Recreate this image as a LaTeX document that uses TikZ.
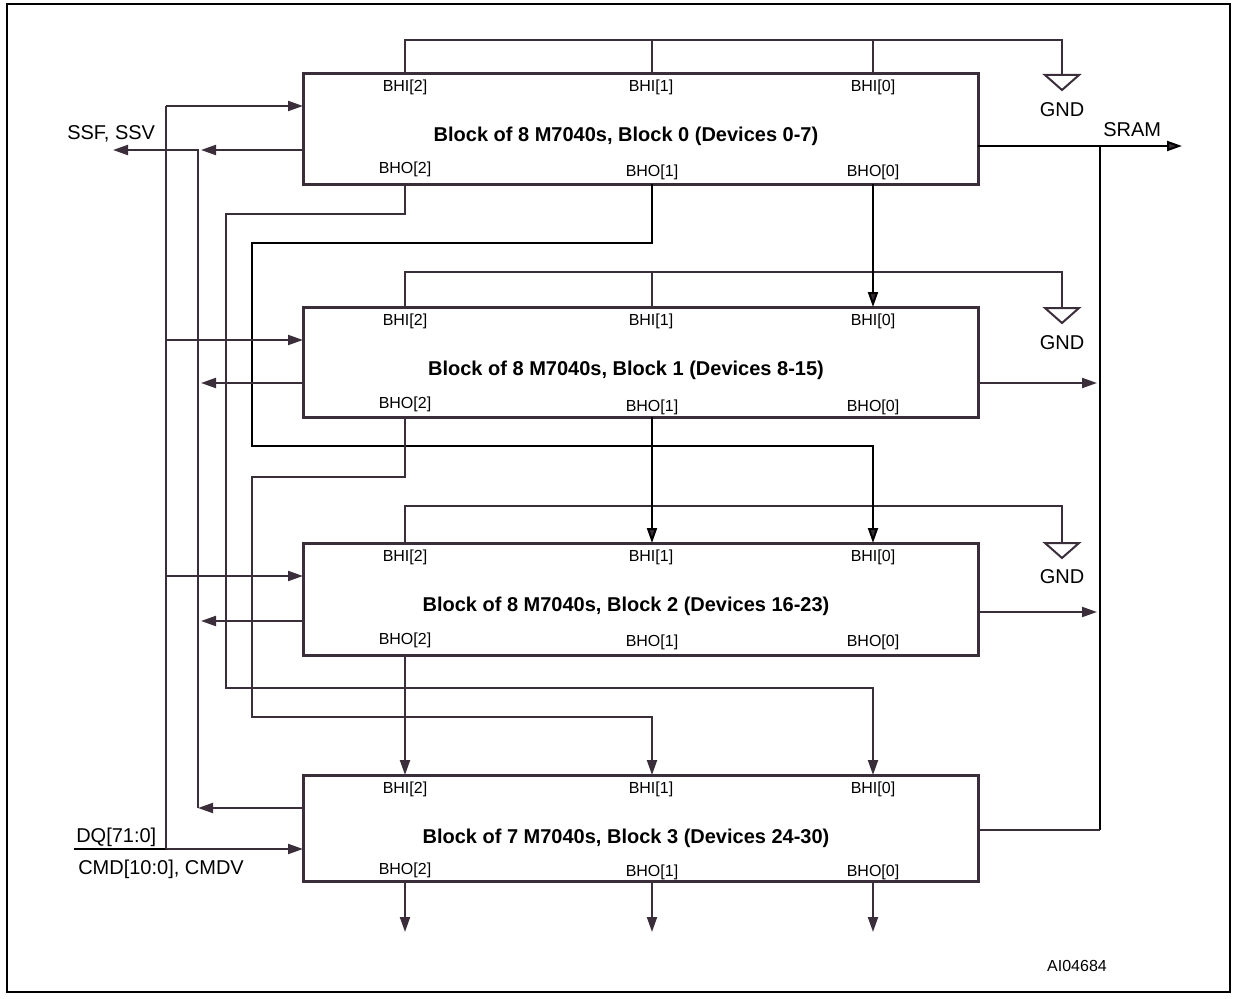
\documentclass[tikz,border=0pt]{standalone}
\usepackage{fontspec}
\setmainfont{Liberation Sans}
\usetikzlibrary{arrows.meta}
\definecolor{lc}{RGB}{58,46,58}
\begin{document}
\begin{tikzpicture}[x=0.75pt,y=-0.75pt,
  wire/.style={draw=lc,line width=1.5pt},
  bwire/.style={draw=black,line width=1.5pt},
  arr/.style={-{Triangle[length=11.25pt,width=7.5pt,fill=lc]}},
  blk/.style={draw=lc,line width=2.25pt,minimum width=506.25pt,inner sep=0pt,outer sep=0pt},
  ttl/.style={font=\fontsize{15}{18}\selectfont\bfseries,anchor=base,inner sep=0pt},
  pinlbl/.style={font=\fontsize{12}{14}\selectfont,anchor=base,inner sep=0pt},
  lbl/.style={font=\fontsize{15}{18}\selectfont,anchor=base west,inner sep=0pt},
  pics/gnd/.style={code={\draw[wire] (-17,0)--(17,0)--(0,15)--cycle;}}
]
\useasboundingbox (0,0) rectangle (1233,999);
\draw[black,line width=1.5pt] (7,4.5) rectangle (1229.5,992);

% blocks
\node[blk,minimum height=82.5pt] (b0) at (640.5,129) {};
\node[blk,minimum height=82.5pt] (b1) at (640.5,362) {};
\node[blk,minimum height=84pt]   (b2) at (640.5,599) {};
\node[blk,minimum height=79.5pt] (b3) at (640.5,828) {};

\node[ttl] (t0) at (626,142) {Block of 8 M7040s, Block 0 (Devices 0-7)};
\node[ttl] (t1) at (626,375) {Block of 8 M7040s, Block 1 (Devices 8-15)};
\node[ttl] (t2) at (626,611) {Block of 8 M7040s, Block 2 (Devices 16-23)};
\node[ttl] (t3) at (626,843) {Block of 7 M7040s, Block 3 (Devices 24-30)};

% pin coordinates and labels
\foreach \k/\top/\bot/\bia/\bib in {0/74/184/174/176,1/307/417/408/411,2/543/655/644/646,3/775/881/874/876}{
  \coordinate (i\k2) at (405,\top);
  \coordinate (i\k1) at (652,\top);
  \coordinate (i\k0) at (873,\top);
  \coordinate (o\k2) at (405,\bot);
  \coordinate (o\k1) at (652,\bot);
  \coordinate (o\k0) at (873,\bot);
  \node[pinlbl] (li\k2) at (405,\top+18) {BHI[2]};
  \node[pinlbl] (li\k1) at (651,\top+18) {BHI[1]};
  \node[pinlbl] (li\k0) at (873,\top+18) {BHI[0]};
  \node[pinlbl] (lo\k2) at (405,\bia) {BHO[2]};
  \node[pinlbl] (lo\k1) at (652,\bib) {BHO[1]};
  \node[pinlbl] (lo\k0) at (873,\bib) {BHO[0]};
}

% GND ties
\coordinate (g0a) at (405,40);  \coordinate (g0b) at (652,40);
\coordinate (g0c) at (873,40);  \coordinate (g0d) at (1062,40);
\coordinate (g0t) at (1062,75);
\draw[wire] (i02) -- (g0a) -- (g0d) -- (g0t);
\draw[wire] (g0b) -- (i01);
\draw[wire] (g0c) -- (i00);
\pic at (g0t) {gnd};
\node[lbl,anchor=base] (gnd0) at (1062,117) {GND};

\coordinate (g1a) at (405,272); \coordinate (g1b) at (652,272);
\coordinate (g1d) at (1062,272); \coordinate (g1t) at (1062,308);
\draw[wire] (i12) -- (g1a) -- (g1d) -- (g1t);
\draw[wire] (g1b) -- (i11);
\pic at (g1t) {gnd};
\node[lbl,anchor=base] (gnd1) at (1062,349) {GND};

\coordinate (g2a) at (405,506); \coordinate (g2d) at (1062,506);
\coordinate (g2t) at (1062,543);
\draw[wire] (i22) -- (g2a) -- (g2d) -- (g2t);
\pic at (g2t) {gnd};
\node[lbl,anchor=base] (gnd2) at (1062,583) {GND};

% cascade connections
\draw[bwire,arr] (o00) -- (i10);
\draw[bwire,arr] (o01) -- (652,243) -- (252,243) -- (252,446) -- (873,446) -- (i20);
\draw[wire,arr] (o02) -- (405,214) -- (226,214) -- (226,688) -- (873,688) -- (i30);
\draw[bwire,arr] (o11) -- (i21);
\draw[wire,arr] (o12) -- (405,477) -- (252,477) -- (252,717) -- (652,717) -- (i31);
\draw[wire,arr] (o22) -- (i32);
\coordinate (e2) at (405,932); \coordinate (e1) at (652,932); \coordinate (e0) at (873,932);
\draw[wire,arr] (o32) -- (e2);
\draw[wire,arr] (o31) -- (e1);
\draw[wire,arr] (o30) -- (e0);

% DQ / CMD bus (left)
\coordinate (dqs) at (74,849);  \coordinate (dqj) at (166,849);
\coordinate (dqt) at (166,106);
\coordinate (in0) at (303,106); \coordinate (in1) at (303,340);
\coordinate (in2) at (303,576); \coordinate (in3) at (303,849);
\draw[bwire] (dqs) -- (dqj);
\draw[wire,arr] (dqj) -- (in3);
\draw[wire] (dqj) -- (dqt);
\draw[wire,arr] (dqt) -- (in0);
\draw[wire,arr] (166,340) -- (in1);
\draw[wire,arr] (166,576) -- (in2);
\node[lbl] (ldq) at (76,842) {DQ[71:0]};
\node[lbl] (lcmd) at (78,874) {CMD[10:0], CMDV};

% SSF/SSV bus
\coordinate (so0) at (303,150); \coordinate (so1) at (303,383);
\coordinate (so2) at (303,621); \coordinate (so3) at (303,808);
\coordinate (sb) at (198,808);  \coordinate (st) at (198,150);
\coordinate (send) at (113,150);
\draw[wire,arr] (so3) -- (sb);
\draw[wire,arr] (sb) -- (st) -- (send);
\draw[wire,arr] (so0) -- (201,150);
\draw[wire,arr] (so1) -- (201,383);
\draw[wire,arr] (so2) -- (201,621);
\node[lbl] (lssf) at (67,140) {SSF, SSV};

% SRAM bus (right)
\coordinate (r0) at (978,146); \coordinate (r1) at (978,383);
\coordinate (r2) at (978,612); \coordinate (r3) at (978,830);
\coordinate (rt) at (1100,146); \coordinate (rb) at (1100,830);
\coordinate (rend) at (1182,146);
\draw[bwire,arr] (r0) -- (rend);
\draw[bwire] (rt) -- (rb);
\draw[wire] (r3) -- (rb);
\draw[wire,arr] (r1) -- (1097,383);
\draw[wire,arr] (r2) -- (1097,612);
\node[lbl] (lsram) at (1103,137) {SRAM};

\node[pinlbl] (lid) at (1077,971) {AI04684};
\end{tikzpicture}
\end{document}
